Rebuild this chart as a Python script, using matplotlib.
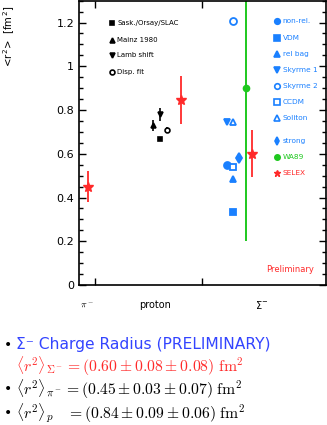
import matplotlib.pyplot as plt

plt.rcParams['mathtext.fontset'] = 'cm'

# x positions in axis units (0..10), y = <r^2> in fm^2
pi_x, pi_y, pi_err = [0.36], [0.45], [0.07]

prot_names = ['Sask./Orsay/SLAC', 'Mainz 1980', 'Lamb shift', 'Disp. fit']
prot_marks = ['s', '^', 'v', 'o']
prot_x = [3.3, 3.0, 3.3, 3.55]
prot_y = [0.668, 0.73, 0.78, 0.71]
prot_err = [0.01, 0.025, 0.03, 0.012]
prot_fill = [True, True, True, False]
prot_meas_x, prot_meas_y, prot_meas_err = [4.15], [0.845], [0.11]

theo_names = ['non-rel.', 'VDM', 'rel bag', 'Skyrme 1', 'Skyrme 2', 'CCDM', 'Soliton', 'strong']
theo_marks = ['o', 's', '^', 'v', 'o', 's', '^', 'd']
theo_fill = [True, True, True, True, False, False, False, True]
theo_x = [6.0, 6.25, 6.25, 6.0, 6.25, 6.25, 6.25, 6.5]
theo_y = [0.55, 0.335, 0.485, 0.745, 1.205, 0.54, 0.745, 0.58]

wa89_x, wa89_y, wa89_err = [6.75], [0.90], [0.70]
selex_x, selex_y, selex_err = [7.0], [0.60], [0.107]

blue = '#1a80ff'
green = '#1ec81e'
red = '#ff2a2a'

fig = plt.figure(figsize=(3.27, 4.25), dpi=100)
ax = fig.add_axes([0.2416, 0.3294, 0.755, 0.669])

ax.errorbar(pi_x, pi_y, yerr=pi_err, fmt='*', color=red, ms=7, elinewidth=1.3)
for x, y, e, m, f in zip(prot_x, prot_y, prot_err, prot_marks, prot_fill):
    ax.errorbar([x], [y], yerr=[e], fmt=m, color='black', ms=3.5, elinewidth=1.2,
                mfc='black' if f else 'white', mew=1.2)
ax.errorbar(prot_meas_x, prot_meas_y, yerr=prot_meas_err, fmt='*', color=red, ms=7, elinewidth=1.3)
for x, y, m, f in zip(theo_x, theo_y, theo_marks, theo_fill):
    ax.plot([x], [y], m, color=blue, ms=5, mfc=blue if f else 'white', mew=1.3)
ax.errorbar(wa89_x, wa89_y, yerr=wa89_err, fmt='o', color=green, ms=4.5, elinewidth=1.4)
ax.errorbar(selex_x, selex_y, yerr=selex_err, fmt='*', color=red, ms=7, elinewidth=1.3)

# black legend (proton data)
leg_y = [1.198, 1.12, 1.05, 0.975]
for name, m, f, y in zip(prot_names, prot_marks, prot_fill, leg_y):
    ax.plot([1.35], [y], m, color='black', ms=3.5, mfc='black' if f else 'white', mew=1.2)
    ax.text(1.55, y, name, fontsize=5, va='center')

# blue/green/red legend (Sigma)
rleg_y = [1.205, 1.13, 1.055, 0.982, 0.91, 0.835, 0.762, 0.658]
for name, m, f, y in zip(theo_names, theo_marks, theo_fill, rleg_y):
    ax.plot([8.0], [y], m, color=blue, ms=4, mfc=blue if f else 'white', mew=1.2)
    ax.text(8.25, y, name, fontsize=5.3, color=blue, va='center')
ax.plot([8.0], [0.585], 'o', color=green, ms=4)
ax.text(8.25, 0.585, 'WA89', fontsize=5.3, color=green, va='center')
ax.plot([8.0], [0.512], '*', color=red, ms=5)
ax.text(8.25, 0.512, 'SELEX', fontsize=5.3, color=red, va='center')
ax.text(9.51, 0.073, 'Preliminary', fontsize=6, color=red, ha='right', va='center')

ax.set_xlim(0, 10)
ax.set_ylim(0, 1.3)
ax.set_yticks([0, 0.2, 0.4, 0.6, 0.8, 1.0, 1.2])
ax.set_yticklabels(['0', '0.2', '0.4', '0.6', '0.8', '1', '1.2'], fontsize=8)
ax.yaxis.set_minor_locator(plt.MultipleLocator(0.05))
ax.set_xticks([0.65, 4.98])
ax.set_xticklabels(['', ''])
ax.tick_params(direction='in', which='both', top=True, right=True, width=1)
ax.tick_params(which='major', length=5)
ax.tick_params(which='minor', length=3)
for s in ax.spines.values():
    s.set_linewidth(1.2)
ax.set_ylabel(r'<r$^\mathregular{2}$>  [fm$^\mathregular{2}$]', fontsize=7.3)
ax.yaxis.set_label_coords(-0.25, 0.875)

fig.text(87 / 327, 1 - 305 / 425, r'$\pi^-$', fontsize=7, ha='center', va='center')
fig.text(155 / 327, 1 - 305 / 425, 'proton', fontsize=7, ha='center', va='center')
fig.text(262 / 327, 1 - 305 / 425, r'$\mathregular{\Sigma^{-}}$', fontsize=7, ha='center', va='center')

# bullet lines below chart
bx = 4 / 327
tx = 16 / 327
fig.text(bx, 1 - 345 / 425, '\u2022', fontsize=10, va='center')
fig.text(tx, 1 - 345 / 425, 'Σ\u207b Charge Radius (PRELIMINARY)', fontsize=11.2,
         color='#3344ff', va='center', family='DejaVu Sans')
fig.text(tx, 1 - 366 / 425, r'$\langle r^2\rangle_{\Sigma^-} = (0.60 \pm 0.08 \pm 0.08)\ \mathrm{fm}^2$',
         fontsize=11.3, color=red, va='center')
fig.text(bx, 1 - 389 / 425, '\u2022', fontsize=10, va='center')
fig.text(tx, 1 - 389 / 425, r'$\langle r^2\rangle_{\pi^-} = (0.45 \pm 0.03 \pm 0.07)\ \mathrm{fm}^2$',
         fontsize=11.3, va='center')
fig.text(bx, 1 - 413 / 425, '\u2022', fontsize=10, va='center')
fig.text(tx, 1 - 413 / 425, r'$\langle r^2\rangle_{p}\ \ \ = (0.84 \pm 0.09 \pm 0.06)\ \mathrm{fm}^2$',
         fontsize=11.3, va='center')

fig.savefig('out.png', dpi=100)
